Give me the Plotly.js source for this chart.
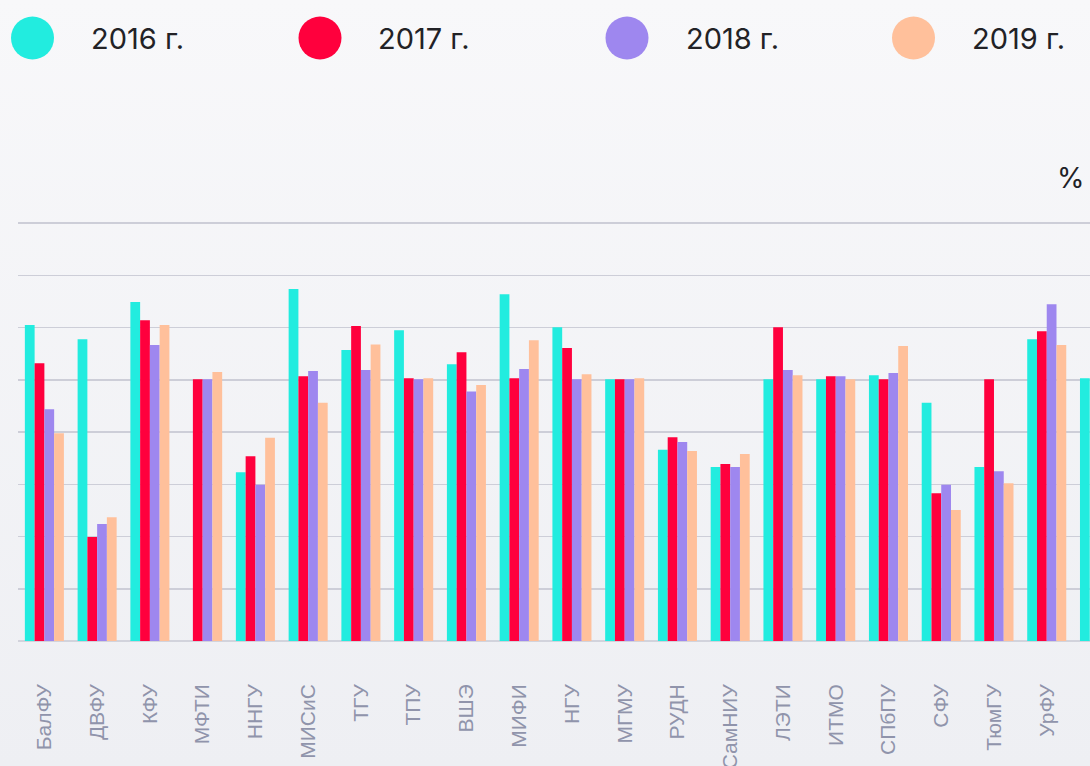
<!DOCTYPE html>
<html>
<head>
<meta charset="utf-8">
<script src="https://cdn.plot.ly/plotly-3.0.1.min.js"></script>
<style>
  html, body { margin: 0; padding: 0; width: 1090px; height: 766px; overflow: hidden;
    background: linear-gradient(180deg, #f8f8fa 0%, #eeeff3 100%); }
  #chart { width: 1090px; height: 766px; }
</style>
</head>
<body>
<div id="chart"></div>
<script>
// Categories (last one is cut off at the right edge of the picture; its label is not visible)
const universities = ["БалФУ","ДВФУ","КФУ","МФТИ","ННГУ","МИСиС","ТГУ","ТПУ","ВШЭ","МИФИ",
  "НГУ","МГМУ","РУДН","СамНИУ","ЛЭТИ","ИТМО","СПбПУ","СФУ","ТюмГУ","УрФУ","…"];
const seriesNames = ["2016 г.","2017 г.","2018 г.","2019 г."];
const v2016 = [60.5,57.8,64.9,null,32.3,67.4,55.7,59.5,53.0,66.4,60.1,50.1,36.6,33.3,50.1,50.1,50.9,45.6,33.3,57.8,50.3];
const v2017 = [53.2,19.9,61.4,50.1,35.4,50.7,60.3,50.3,55.3,50.3,56.1,50.1,39.0,33.9,60.1,50.7,50.1,28.3,50.1,59.3,null];
const v2018 = [44.4,22.4,56.7,50.1,29.9,51.7,51.9,50.1,47.8,52.1,50.1,50.1,38.1,33.3,51.9,50.7,51.3,29.9,32.5,64.5,null];
const v2019 = [39.8,23.7,60.5,51.5,38.9,45.6,56.8,50.3,49.0,57.6,51.1,50.3,36.4,35.8,50.9,50.1,56.5,25.1,30.2,56.7,null];
const unitLabel = "%";

const colors = ["#22ecdf", "#ff003d", "#9e87ef", "#ffc09b"];
const values = [v2016, v2017, v2018, v2019];

const traces = values.map((vals, i) => ({
  type: "bar",
  name: seriesNames[i],
  x: universities,
  y: vals,
  marker: { color: colors[i], line: { width: 0 } },
  hoverinfo: "x+y+name",
  showlegend: false
}));

// plot area geometry in pixels
const L = 18, R = 0, T = 218, B = 125, W = 1090, H = 766;
const pw = W - L - R, ph = H - T - B;
const px = x => (x - L) / pw;
const py = y => (H - B - y) / ph;

const legendCx = [32.5, 320, 627, 913.5];
const legendTx = [90, 377, 685, 971];
const legendCy = 38;
const rad = 21.5;

const shapes = seriesNames.map((n, i) => ({
  type: "circle", xref: "paper", yref: "paper",
  xsizemode: "pixel", ysizemode: "pixel",
  xanchor: px(legendCx[i]), yanchor: py(legendCy),
  x0: -rad, x1: rad, y0: -rad, y1: rad,
  fillcolor: colors[i], line: { width: 0 }
}));

const annotations = seriesNames.map((n, i) => ({
  xref: "paper", yref: "paper",
  x: px(legendTx[i]), y: py(legendCy),
  xanchor: "left", yanchor: "middle",
  text: n, showarrow: false, borderpad: 0,
  font: { family: "Inter, Roboto, sans-serif", size: 29, color: "#222226" }
}));
annotations.push({
  xref: "paper", yref: "paper",
  x: px(1086), y: py(178),
  xanchor: "right", yanchor: "middle",
  text: unitLabel, showarrow: false, borderpad: 0,
  font: { family: "Inter, Roboto, sans-serif", size: 28, color: "#222226" }
});

const layout = {
  width: W, height: H,
  margin: { l: L, r: R, t: T, b: B, pad: 0 },
  paper_bgcolor: "rgba(0,0,0,0)",
  plot_bgcolor: "rgba(0,0,0,0)",
  barmode: "group",
  bargap: 0.26,
  bargroupgap: 0,
  showlegend: false,
  xaxis: {
    type: "category",
    range: [-0.5, 19.82],
    tickangle: -90,
    ticks: "",
    showgrid: false,
    showline: false,
    ticklabelstandoff: 38,
    tickfont: { family: "Liberation Sans, Arial, sans-serif", size: 21, color: "#9094ab" },
    fixedrange: true
  },
  yaxis: {
    range: [0, 81],
    tick0: 0,
    dtick: 10,
    showticklabels: false,
    ticks: "",
    showgrid: true,
    gridcolor: "#cdced8",
    gridwidth: 1.5,
    zeroline: true,
    zerolinecolor: "#d2d3dc",
    zerolinewidth: 2.5,
    fixedrange: true
  },
  shapes: shapes,
  annotations: annotations
};

Plotly.newPlot("chart", traces, layout, { displayModeBar: false, staticPlot: true });
</script>
</body>
</html>
